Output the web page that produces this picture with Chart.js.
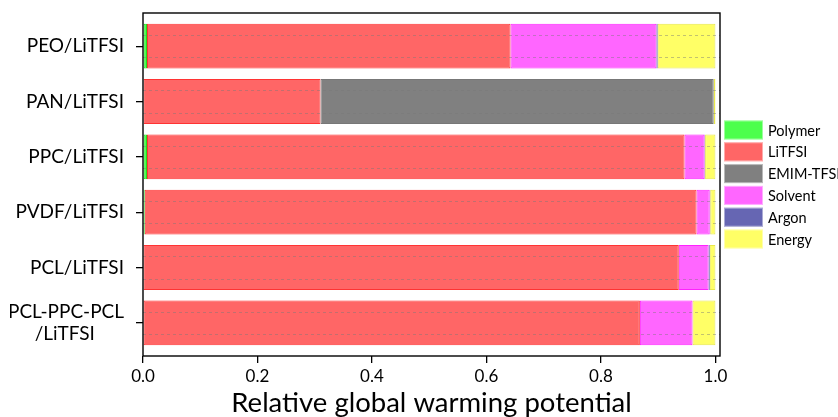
<!DOCTYPE html>
<html>
<head>
<meta charset="utf-8">
<script src="https://cdn.jsdelivr.net/npm/chart.js@4.4.0/dist/chart.umd.min.js"></script>
<style>
  html, body { margin: 0; padding: 0; background: #fff; }
</style>
</head>
<body>
<canvas id="chart" width="838" height="417"></canvas>
<script>
const categories = ['PEO/LiTFSI', 'PAN/LiTFSI', 'PPC/LiTFSI', 'PVDF/LiTFSI', 'PCL/LiTFSI', ['PCL-PPC-PCL', '/LiTFSI']];
const seriesNames = ['Polymer', 'LiTFSI', 'EMIM-TFSI', 'Solvent', 'Argon', 'Energy'];
const polymer = [0.007, 0.000, 0.007, 0.003, 0.001, 0.001];
const litfsi  = [0.635, 0.310, 0.939, 0.964, 0.935, 0.867];
const emim    = [0.000, 0.687, 0.000, 0.000, 0.000, 0.000];
const solvent = [0.255, 0.000, 0.035, 0.023, 0.052, 0.092];
const argon   = [0.002, 0.000, 0.001, 0.001, 0.002, 0.000];
const energy  = [0.101, 0.003, 0.018, 0.009, 0.010, 0.040];
const xTicks = [0, 0.2, 0.4, 0.6, 0.8, 1.0];

const fills   = ['#4dff4d', '#ff6666', '#808080', '#ff66ff', '#6666b3', '#ffff66'];
const borders = ['#22dd22', '#ff3333', '#777777', '#ff22ff', '#333399', '#e8e84a'];
const FONT = 'Lato, "Open Sans", sans-serif';

const seriesValues = [polymer, litfsi, emim, solvent, argon, energy];

// centre the second line of the wrapped label under the first
const measure = document.createElement('canvas').getContext('2d');
measure.font = '19px ' + FONT;
function tickLabel(i) {
  const c = categories[i];
  if (!Array.isArray(c)) return c;
  const w0 = measure.measureText(c[0]).width;
  const w1 = measure.measureText(c[1]).width;
  const sp = measure.measureText(' ').width;
  const n = Math.round((w0 - w1) / 2 / sp);
  return [c[0], c[1] + ' '.repeat(n)];
}

// faint dashed lines across each bar, like in the original figure
const barLines = {
  id: 'barLines',
  afterDatasetsDraw(chart) {
    const { ctx, chartArea } = chart;
    const meta = chart.getDatasetMeta(1);
    ctx.save();
    ctx.strokeStyle = 'rgba(120,120,120,0.45)';
    ctx.lineWidth = 1;
    ctx.setLineDash([3, 3]);
    meta.data.forEach(el => {
      [-0.25, 0.25].forEach(f => {
        const y = Math.round(el.y + f * el.height) + 0.5;
        ctx.beginPath();
        ctx.moveTo(chartArea.left, y);
        ctx.lineTo(chartArea.right, y);
        ctx.stroke();
      });
    });
    ctx.restore();
  }
};

const frameAndLegend = {
  id: 'frameAndLegend',
  afterDraw(chart) {
    const { ctx, chartArea } = chart;
    ctx.save();
    ctx.strokeStyle = '#000';
    ctx.lineWidth = 1.4;
    ctx.strokeRect(chartArea.left, chartArea.top, chartArea.right - chartArea.left, chartArea.bottom - chartArea.top);

    const x0 = chartArea.right + 4;
    const cy0 = (chartArea.top + chartArea.bottom) / 2;
    const step = 21.8;
    ctx.font = '14.5px ' + FONT;
    ctx.textBaseline = 'middle';
    ctx.textAlign = 'left';
    chart.data.datasets.forEach((ds, i) => {
      const cy = cy0 + (i - (chart.data.datasets.length - 1) / 2) * step;
      ctx.fillStyle = ds.backgroundColor;
      ctx.fillRect(x0, cy - 9.5, 39, 19);
      ctx.strokeStyle = 'rgba(255,255,255,0.45)';
      ctx.lineWidth = 1;
      ctx.strokeRect(x0 + 0.5, cy - 9, 38, 18);
      ctx.fillStyle = '#000';
      ctx.fillText(ds.label, x0 + 44, cy + 1);
    });
    ctx.restore();
  }
};

new Chart(document.getElementById('chart'), {
  type: 'bar',
  data: {
    datasets: seriesNames.map((name, k) => ({
      label: name,
      data: seriesValues[k].map((v, i) => ({ x: v, y: i })),
      backgroundColor: fills[k],
      borderColor: borders[k],
      borderWidth: 1,
      borderSkipped: false,
      barPercentage: 0.81,
      categoryPercentage: 1
    }))
  },
  options: {
    indexAxis: 'y',
    responsive: false,
    animation: false,
    layout: { padding: { left: 10, top: 13, right: 118, bottom: 0 } },
    plugins: { legend: { display: false }, tooltip: { enabled: false } },
    scales: {
      x: {
        type: 'linear',
        stacked: true,
        min: 0,
        max: 1.008,
        afterBuildTicks: s => { s.ticks = xTicks.map(v => ({ value: v })); },
        afterFit: s => { s.height = 61; s.paddingLeft = 0; s.paddingRight = 0; },
        border: { display: false },
        grid: { drawOnChartArea: false, drawTicks: true, tickLength: 7, color: '#000', lineWidth: 1.3 },
        ticks: { font: { family: FONT, size: 17 }, color: '#000', padding: 3, callback: v => v.toFixed(1) },
        title: { display: true, text: 'Relative global warming potential', color: '#000',
                 font: { family: FONT, size: 27.5, lineHeight: 1 }, padding: { top: 0, bottom: 0 } }
      },
      y: {
        type: 'linear',
        stacked: true,
        reverse: true,
        offset: false,
        min: -0.6,
        max: 5.6,
        afterBuildTicks: s => { s.ticks = categories.map((c, i) => ({ value: i })); },
        afterFit: s => { s.width = 133; s.paddingTop = 0; s.paddingBottom = 0; },
        border: { display: false },
        grid: { offset: false, drawOnChartArea: false, drawTicks: true, tickLength: 7, color: '#000', lineWidth: 1.3 },
        ticks: { font: { family: FONT, size: 19 }, color: '#000', padding: 12, autoSkip: false,
                 callback: v => tickLabel(v) }
      }
    }
  },
  plugins: [barLines, frameAndLegend]
});
</script>
</body>
</html>
